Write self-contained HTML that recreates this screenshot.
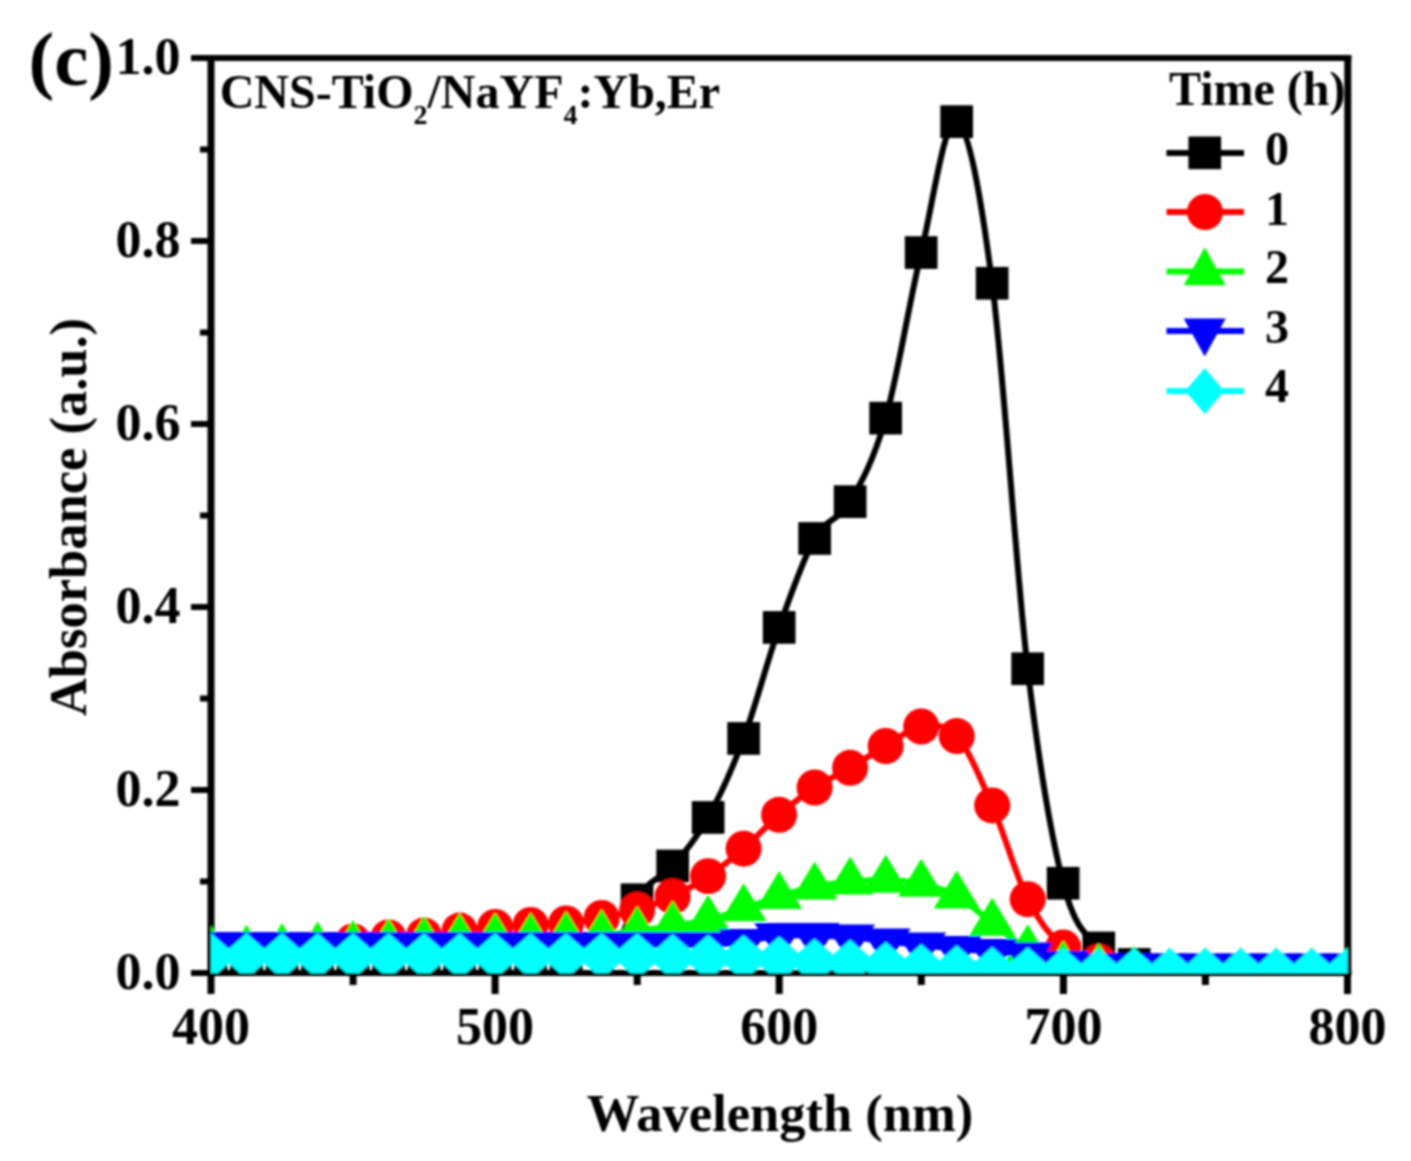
<!DOCTYPE html><html><head><meta charset="utf-8"><style>html,body{margin:0;padding:0;background:#fff;width:1411px;height:1161px;overflow:hidden}svg{display:block}text{font-family:"Liberation Serif",serif;font-weight:bold;fill:#000}</style></head><body>
<svg width="1411" height="1161" viewBox="0 0 1411 1161">
<defs><filter id="bl" x="0" y="0" width="1411" height="1161" filterUnits="userSpaceOnUse"><feGaussianBlur stdDeviation="0.8"/></filter><clipPath id="pa"><rect x="211.0" y="58.0" width="1136.5" height="915.0"/></clipPath></defs>
<rect width="1411" height="1161" fill="#fff"/>
<g filter="url(#bl)">
<path d="M207.5,58.0H1351.3M207.5,973.0H1351.3" stroke="#000" stroke-width="6" fill="none"/>
<path d="M211.0,55.0V976.0M1347.8,55.0V976.0" stroke="#000" stroke-width="7" fill="none"/>
<g clip-path="url(#pa)">
<path d="M601.6,995.0 C607.5,979.1 625.3,921.3 637.1,899.8 C648.9,878.3 660.8,879.7 672.6,866.0 C684.4,852.3 696.3,838.8 708.1,817.5 C719.9,796.2 731.8,770.2 743.6,738.5 C755.5,706.8 767.3,660.8 779.1,627.5 C791.0,594.2 802.8,559.5 814.6,538.5 C826.5,517.5 838.3,521.8 850.1,501.7 C862.0,481.6 873.8,459.7 885.7,418.2 C897.5,376.7 909.3,301.9 921.2,252.5 C933.0,203.1 944.8,116.6 956.7,121.7 C968.5,126.8 980.3,192.1 992.2,283.3 C1004.0,374.5 1015.8,568.7 1027.7,668.7 C1039.5,768.7 1051.4,836.8 1063.2,883.3 C1075.0,929.8 1086.9,934.5 1098.7,948.0 C1110.5,961.5 1122.4,960.8 1134.2,964.5 C1146.0,968.2 1157.9,968.2 1169.7,970.0 C1181.6,971.8 1193.4,974.0 1205.2,975.0 C1217.1,976.0 1228.9,975.7 1240.7,976.0 C1252.6,976.3 1264.4,976.7 1276.2,977.0 C1288.1,977.3 1299.9,977.8 1311.7,978.0 C1323.6,978.2 1341.3,978.0 1347.3,978.0" fill="none" stroke="#000" stroke-width="6.0"/>
<path d="M211.0,981.0 C216.9,981.0 234.7,981.0 246.5,981.0 C258.3,981.0 270.2,981.0 282.0,981.0 C293.9,981.0 305.7,981.0 317.5,981.0 C329.4,981.0 341.2,981.0 353.0,981.0 C364.9,981.0 376.7,981.0 388.5,981.0 C400.4,981.0 412.2,981.0 424.0,981.0 C435.9,981.0 447.7,981.0 459.6,981.0 C471.4,981.0 483.2,981.0 495.1,981.0 C506.9,981.0 518.7,981.0 530.6,981.0 C542.4,981.0 554.2,978.7 566.1,981.0 C577.9,983.3 595.7,992.7 601.6,995.0" fill="none" stroke="#000" stroke-width="6.0"/>
<g fill="#000"><rect x="194.7" y="964.6" width="32.7" height="32.7"/><rect x="230.2" y="964.6" width="32.7" height="32.7"/><rect x="265.7" y="964.6" width="32.7" height="32.7"/><rect x="301.2" y="964.6" width="32.7" height="32.7"/><rect x="336.7" y="964.6" width="32.7" height="32.7"/><rect x="372.2" y="964.6" width="32.7" height="32.7"/><rect x="407.7" y="964.6" width="32.7" height="32.7"/><rect x="443.2" y="964.6" width="32.7" height="32.7"/><rect x="478.7" y="964.6" width="32.7" height="32.7"/><rect x="514.2" y="964.6" width="32.7" height="32.7"/><rect x="549.7" y="964.6" width="32.7" height="32.7"/><rect x="585.2" y="978.6" width="32.7" height="32.7"/><rect x="620.7" y="883.4" width="32.7" height="32.7"/><rect x="656.3" y="849.6" width="32.7" height="32.7"/><rect x="691.8" y="801.1" width="32.7" height="32.7"/><rect x="727.3" y="722.1" width="32.7" height="32.7"/><rect x="762.8" y="611.1" width="32.7" height="32.7"/><rect x="798.3" y="522.1" width="32.7" height="32.7"/><rect x="833.8" y="485.3" width="32.7" height="32.7"/><rect x="869.3" y="401.8" width="32.7" height="32.7"/><rect x="904.8" y="236.2" width="32.7" height="32.7"/><rect x="940.3" y="105.3" width="32.7" height="32.7"/><rect x="975.8" y="266.9" width="32.7" height="32.7"/><rect x="1011.3" y="652.4" width="32.7" height="32.7"/><rect x="1046.8" y="866.9" width="32.7" height="32.7"/><rect x="1082.4" y="931.6" width="32.7" height="32.7"/><rect x="1117.9" y="948.1" width="32.7" height="32.7"/><rect x="1153.4" y="953.6" width="32.7" height="32.7"/><rect x="1188.9" y="958.6" width="32.7" height="32.7"/><rect x="1224.4" y="959.6" width="32.7" height="32.7"/><rect x="1259.9" y="960.6" width="32.7" height="32.7"/><rect x="1295.4" y="961.6" width="32.7" height="32.7"/><rect x="1330.9" y="961.6" width="32.7" height="32.7"/></g>
<path d="M211.0,952.0 C216.9,951.8 234.7,951.3 246.5,951.0 C258.3,950.7 270.2,950.5 282.0,950.0 C293.9,949.5 305.7,949.4 317.5,948.0 C329.4,946.6 341.2,943.2 353.0,941.5 C364.9,939.8 376.7,938.5 388.5,937.5 C400.4,936.5 412.2,936.8 424.0,935.6 C435.9,934.5 447.7,932.0 459.6,930.6 C471.4,929.2 483.2,928.0 495.1,927.0 C506.9,926.0 518.7,925.5 530.6,924.9 C542.4,924.3 554.2,924.6 566.1,923.5 C577.9,922.4 589.8,920.2 601.6,918.0 C613.4,915.8 625.3,913.6 637.1,910.0 C648.9,906.4 660.8,902.1 672.6,896.5 C684.4,890.9 696.3,884.2 708.1,876.2 C719.9,868.2 731.8,858.9 743.6,848.7 C755.5,838.5 767.3,825.0 779.1,814.8 C791.0,804.6 802.8,795.3 814.6,787.5 C826.5,779.7 838.3,774.7 850.1,767.8 C862.0,760.9 873.8,752.9 885.7,746.0 C897.5,739.1 909.3,728.1 921.2,726.5 C933.0,724.9 944.8,723.0 956.7,736.1 C968.5,749.2 980.3,778.2 992.2,805.4 C1004.0,832.6 1015.8,875.5 1027.7,899.2 C1039.5,922.9 1051.4,937.0 1063.2,947.5 C1075.0,958.0 1086.9,957.9 1098.7,962.0 C1110.5,966.1 1122.4,969.7 1134.2,972.0 C1146.0,974.3 1157.9,975.3 1169.7,976.0 C1181.6,976.7 1193.4,976.0 1205.2,976.0 C1217.1,976.0 1228.9,976.0 1240.7,976.0 C1252.6,976.0 1264.4,976.0 1276.2,976.0 C1288.1,976.0 1299.9,976.0 1311.7,976.0 C1323.6,976.0 1341.3,976.0 1347.3,976.0" fill="none" stroke="#f00" stroke-width="6.0"/>
<g fill="#f00"><circle cx="211.0" cy="952.0" r="18.0"/><circle cx="246.5" cy="951.0" r="18.0"/><circle cx="282.0" cy="950.0" r="18.0"/><circle cx="317.5" cy="948.0" r="18.0"/><circle cx="353.0" cy="941.5" r="18.0"/><circle cx="388.5" cy="937.5" r="18.0"/><circle cx="424.0" cy="935.6" r="18.0"/><circle cx="459.6" cy="930.6" r="18.0"/><circle cx="495.1" cy="927.0" r="18.0"/><circle cx="530.6" cy="924.9" r="18.0"/><circle cx="566.1" cy="923.5" r="18.0"/><circle cx="601.6" cy="918.0" r="18.0"/><circle cx="637.1" cy="910.0" r="18.0"/><circle cx="672.6" cy="896.5" r="18.0"/><circle cx="708.1" cy="876.2" r="18.0"/><circle cx="743.6" cy="848.7" r="18.0"/><circle cx="779.1" cy="814.8" r="18.0"/><circle cx="814.6" cy="787.5" r="18.0"/><circle cx="850.1" cy="767.8" r="18.0"/><circle cx="885.7" cy="746.0" r="18.0"/><circle cx="921.2" cy="726.5" r="18.0"/><circle cx="956.7" cy="736.1" r="18.0"/><circle cx="992.2" cy="805.4" r="18.0"/><circle cx="1027.7" cy="899.2" r="18.0"/><circle cx="1063.2" cy="947.5" r="18.0"/><circle cx="1098.7" cy="962.0" r="18.0"/><circle cx="1134.2" cy="972.0" r="18.0"/><circle cx="1169.7" cy="976.0" r="18.0"/><circle cx="1205.2" cy="976.0" r="18.0"/><circle cx="1240.7" cy="976.0" r="18.0"/><circle cx="1276.2" cy="976.0" r="18.0"/><circle cx="1311.7" cy="976.0" r="18.0"/><circle cx="1347.3" cy="976.0" r="18.0"/></g>
<path d="M211.0,950.8 C216.9,950.7 234.7,950.5 246.5,950.1 C258.3,949.7 270.2,948.9 282.0,948.3 C293.9,947.8 305.7,947.3 317.5,946.8 C329.4,946.3 341.2,945.8 353.0,945.3 C364.9,944.8 376.7,944.5 388.5,943.8 C400.4,943.2 412.2,942.2 424.0,941.3 C435.9,940.5 447.7,939.2 459.6,938.6 C471.4,938.1 483.2,938.1 495.1,937.9 C506.9,937.8 518.7,938.2 530.6,937.9 C542.4,937.7 554.2,936.9 566.1,936.3 C577.9,935.8 589.8,935.5 601.6,934.6 C613.4,933.8 625.3,932.7 637.1,931.2 C648.9,929.8 660.8,927.7 672.6,925.8 C684.4,924.0 696.3,923.0 708.1,920.1 C719.9,917.3 731.8,912.6 743.6,908.6 C755.5,904.7 767.3,900.0 779.1,896.3 C791.0,892.7 802.8,889.2 814.6,886.8 C826.5,884.4 838.3,883.0 850.1,881.8 C862.0,880.7 873.8,879.8 885.7,880.1 C897.5,880.5 909.3,881.4 921.2,884.0 C933.0,886.7 944.8,889.3 956.7,895.8 C968.5,902.3 980.3,914.1 992.2,923.0 C1004.0,932.0 1015.8,942.5 1027.7,949.6 C1039.5,956.8 1051.4,962.7 1063.2,965.8 C1075.0,969.0 1086.9,967.4 1098.7,968.3 C1110.5,969.2 1122.4,970.7 1134.2,971.3 C1146.0,972.0 1157.9,972.2 1169.7,972.3 C1181.6,972.5 1193.4,972.3 1205.2,972.3 C1217.1,972.3 1228.9,972.3 1240.7,972.3 C1252.6,972.3 1264.4,972.3 1276.2,972.3 C1288.1,972.3 1299.9,972.3 1311.7,972.3 C1323.6,972.3 1341.3,972.3 1347.3,972.3" fill="none" stroke="#0f0" stroke-width="6.0"/>
<g fill="#0f0"><path d="M211.0,925.5L234.0,963.5L188.0,963.5Z"/><path d="M246.5,924.8L269.5,962.8L223.5,962.8Z"/><path d="M282.0,923.0L305.0,961.0L259.0,961.0Z"/><path d="M317.5,921.5L340.5,959.5L294.5,959.5Z"/><path d="M353.0,920.0L376.0,958.0L330.0,958.0Z"/><path d="M388.5,918.5L411.5,956.5L365.5,956.5Z"/><path d="M424.0,916.0L447.0,954.0L401.0,954.0Z"/><path d="M459.6,913.3L482.6,951.3L436.6,951.3Z"/><path d="M495.1,912.6L518.1,950.6L472.1,950.6Z"/><path d="M530.6,912.6L553.6,950.6L507.6,950.6Z"/><path d="M566.1,911.0L589.1,949.0L543.1,949.0Z"/><path d="M601.6,909.3L624.6,947.3L578.6,947.3Z"/><path d="M637.1,905.9L660.1,943.9L614.1,943.9Z"/><path d="M672.6,900.5L695.6,938.5L649.6,938.5Z"/><path d="M708.1,894.8L731.1,932.8L685.1,932.8Z"/><path d="M743.6,883.3L766.6,921.3L720.6,921.3Z"/><path d="M779.1,871.0L802.1,909.0L756.1,909.0Z"/><path d="M814.6,861.5L837.6,899.5L791.6,899.5Z"/><path d="M850.1,856.5L873.1,894.5L827.1,894.5Z"/><path d="M885.7,854.8L908.7,892.8L862.7,892.8Z"/><path d="M921.2,858.7L944.2,896.7L898.2,896.7Z"/><path d="M956.7,870.5L979.7,908.5L933.7,908.5Z"/><path d="M992.2,897.7L1015.2,935.7L969.2,935.7Z"/><path d="M1027.7,924.3L1050.7,962.3L1004.7,962.3Z"/><path d="M1063.2,940.5L1086.2,978.5L1040.2,978.5Z"/><path d="M1098.7,943.0L1121.7,981.0L1075.7,981.0Z"/><path d="M1134.2,946.0L1157.2,984.0L1111.2,984.0Z"/><path d="M1169.7,947.0L1192.7,985.0L1146.7,985.0Z"/><path d="M1205.2,947.0L1228.2,985.0L1182.2,985.0Z"/><path d="M1240.7,947.0L1263.7,985.0L1217.7,985.0Z"/><path d="M1276.2,947.0L1299.2,985.0L1253.2,985.0Z"/><path d="M1311.7,947.0L1334.7,985.0L1288.7,985.0Z"/><path d="M1347.3,947.0L1370.3,985.0L1324.3,985.0Z"/></g>
<path d="M211.0,944.7 C216.9,944.7 234.7,944.7 246.5,944.7 C258.3,944.7 270.2,944.7 282.0,944.7 C293.9,944.7 305.7,944.7 317.5,944.7 C329.4,944.7 341.2,944.7 353.0,944.7 C364.9,944.7 376.7,944.7 388.5,944.7 C400.4,944.7 412.2,944.7 424.0,944.7 C435.9,944.7 447.7,944.7 459.6,944.7 C471.4,944.7 483.2,944.7 495.1,944.7 C506.9,944.7 518.7,944.7 530.6,944.7 C542.4,944.7 554.2,944.7 566.1,944.7 C577.9,944.7 589.8,944.7 601.6,944.7 C613.4,944.7 625.3,944.7 637.1,944.7 C648.9,944.7 660.8,944.7 672.6,944.7 C684.4,944.7 696.3,945.2 708.1,944.7 C719.9,944.2 731.8,943.2 743.6,941.7 C755.5,940.2 767.3,936.7 779.1,935.7 C791.0,934.7 802.8,935.4 814.6,935.7 C826.5,935.9 838.3,936.2 850.1,937.2 C862.0,938.1 873.8,939.8 885.7,941.2 C897.5,942.5 909.3,943.9 921.2,945.2 C933.0,946.4 944.8,947.6 956.7,948.7 C968.5,949.8 980.3,950.6 992.2,951.7 C1004.0,952.8 1015.8,953.2 1027.7,955.2 C1039.5,957.2 1051.4,961.8 1063.2,963.7 C1075.0,965.5 1086.9,965.8 1098.7,966.2 C1110.5,966.6 1122.4,966.2 1134.2,966.2 C1146.0,966.2 1157.9,966.2 1169.7,966.2 C1181.6,966.2 1193.4,966.2 1205.2,966.2 C1217.1,966.2 1228.9,966.2 1240.7,966.2 C1252.6,966.2 1264.4,966.2 1276.2,966.2 C1288.1,966.2 1299.9,966.2 1311.7,966.2 C1323.6,966.2 1341.3,966.2 1347.3,966.2" fill="none" stroke="#00f" stroke-width="6.0"/>
<g fill="#00f"><path d="M186.0,932.0L236.0,932.0L211.0,970.0Z"/><path d="M221.5,932.0L271.5,932.0L246.5,970.0Z"/><path d="M257.0,932.0L307.0,932.0L282.0,970.0Z"/><path d="M292.5,932.0L342.5,932.0L317.5,970.0Z"/><path d="M328.0,932.0L378.0,932.0L353.0,970.0Z"/><path d="M363.5,932.0L413.5,932.0L388.5,970.0Z"/><path d="M399.0,932.0L449.0,932.0L424.0,970.0Z"/><path d="M434.6,932.0L484.6,932.0L459.6,970.0Z"/><path d="M470.1,932.0L520.1,932.0L495.1,970.0Z"/><path d="M505.6,932.0L555.6,932.0L530.6,970.0Z"/><path d="M541.1,932.0L591.1,932.0L566.1,970.0Z"/><path d="M576.6,932.0L626.6,932.0L601.6,970.0Z"/><path d="M612.1,932.0L662.1,932.0L637.1,970.0Z"/><path d="M647.6,932.0L697.6,932.0L672.6,970.0Z"/><path d="M683.1,932.0L733.1,932.0L708.1,970.0Z"/><path d="M718.6,929.0L768.6,929.0L743.6,967.0Z"/><path d="M754.1,923.0L804.1,923.0L779.1,961.0Z"/><path d="M789.6,923.0L839.6,923.0L814.6,961.0Z"/><path d="M825.1,924.5L875.1,924.5L850.1,962.5Z"/><path d="M860.7,928.5L910.7,928.5L885.7,966.5Z"/><path d="M896.2,932.5L946.2,932.5L921.2,970.5Z"/><path d="M931.7,936.0L981.7,936.0L956.7,974.0Z"/><path d="M967.2,939.0L1017.2,939.0L992.2,977.0Z"/><path d="M1002.7,942.5L1052.7,942.5L1027.7,980.5Z"/><path d="M1038.2,951.0L1088.2,951.0L1063.2,989.0Z"/><path d="M1073.7,953.5L1123.7,953.5L1098.7,991.5Z"/><path d="M1109.2,953.5L1159.2,953.5L1134.2,991.5Z"/><path d="M1144.7,953.5L1194.7,953.5L1169.7,991.5Z"/><path d="M1180.2,953.5L1230.2,953.5L1205.2,991.5Z"/><path d="M1215.7,953.5L1265.7,953.5L1240.7,991.5Z"/><path d="M1251.2,953.5L1301.2,953.5L1276.2,991.5Z"/><path d="M1286.7,953.5L1336.7,953.5L1311.7,991.5Z"/><path d="M1322.3,953.5L1372.3,953.5L1347.3,991.5Z"/></g>
<path d="M211.0,956.0 C216.9,956.0 234.7,956.0 246.5,956.0 C258.3,956.0 270.2,956.0 282.0,956.0 C293.9,956.0 305.7,956.0 317.5,956.0 C329.4,956.0 341.2,956.0 353.0,956.0 C364.9,956.0 376.7,956.0 388.5,956.0 C400.4,956.0 412.2,956.0 424.0,956.0 C435.9,956.0 447.7,956.0 459.6,956.0 C471.4,956.0 483.2,956.0 495.1,956.0 C506.9,956.0 518.7,956.0 530.6,956.0 C542.4,956.0 554.2,956.0 566.1,956.0 C577.9,956.0 589.8,956.0 601.6,956.0 C613.4,956.0 625.3,955.8 637.1,956.0 C648.9,956.2 660.8,956.8 672.6,957.0 C684.4,957.2 696.3,957.3 708.1,957.5 C719.9,957.7 731.8,957.7 743.6,958.0 C755.5,958.3 767.3,958.7 779.1,959.3 C791.0,959.9 802.8,960.9 814.6,961.4 C826.5,961.9 838.3,961.9 850.1,962.5 C862.0,963.1 873.8,964.0 885.7,964.8 C897.5,965.5 909.3,966.4 921.2,967.0 C933.0,967.6 944.8,967.8 956.7,968.2 C968.5,968.7 980.3,969.4 992.2,969.7 C1004.0,970.0 1015.8,969.9 1027.7,970.0 C1039.5,970.1 1051.4,970.3 1063.2,970.5 C1075.0,970.7 1086.9,970.9 1098.7,971.0 C1110.5,971.1 1122.4,971.0 1134.2,971.0 C1146.0,971.0 1157.9,971.0 1169.7,971.0 C1181.6,971.0 1193.4,971.0 1205.2,971.0 C1217.1,971.0 1228.9,971.0 1240.7,971.0 C1252.6,971.0 1264.4,971.0 1276.2,971.0 C1288.1,971.0 1299.9,971.0 1311.7,971.0 C1323.6,971.0 1341.3,971.0 1347.3,971.0" fill="none" stroke="#0ff" stroke-width="6.0"/>
<g fill="#0ff"><path d="M211.0,933.0L237.0,956.0L211.0,979.0L185.0,956.0Z"/><path d="M246.5,933.0L272.5,956.0L246.5,979.0L220.5,956.0Z"/><path d="M282.0,933.0L308.0,956.0L282.0,979.0L256.0,956.0Z"/><path d="M317.5,933.0L343.5,956.0L317.5,979.0L291.5,956.0Z"/><path d="M353.0,933.0L379.0,956.0L353.0,979.0L327.0,956.0Z"/><path d="M388.5,933.0L414.5,956.0L388.5,979.0L362.5,956.0Z"/><path d="M424.0,933.0L450.0,956.0L424.0,979.0L398.0,956.0Z"/><path d="M459.6,933.0L485.6,956.0L459.6,979.0L433.6,956.0Z"/><path d="M495.1,933.0L521.1,956.0L495.1,979.0L469.1,956.0Z"/><path d="M530.6,933.0L556.6,956.0L530.6,979.0L504.6,956.0Z"/><path d="M566.1,933.0L592.1,956.0L566.1,979.0L540.1,956.0Z"/><path d="M601.6,933.0L627.6,956.0L601.6,979.0L575.6,956.0Z"/><path d="M637.1,933.0L663.1,956.0L637.1,979.0L611.1,956.0Z"/><path d="M672.6,934.0L698.6,957.0L672.6,980.0L646.6,957.0Z"/><path d="M708.1,934.5L734.1,957.5L708.1,980.5L682.1,957.5Z"/><path d="M743.6,935.0L769.6,958.0L743.6,981.0L717.6,958.0Z"/><path d="M779.1,936.3L805.1,959.3L779.1,982.3L753.1,959.3Z"/><path d="M814.6,938.4L840.6,961.4L814.6,984.4L788.6,961.4Z"/><path d="M850.1,939.5L876.1,962.5L850.1,985.5L824.1,962.5Z"/><path d="M885.7,941.8L911.7,964.8L885.7,987.8L859.7,964.8Z"/><path d="M921.2,944.0L947.2,967.0L921.2,990.0L895.2,967.0Z"/><path d="M956.7,945.2L982.7,968.2L956.7,991.2L930.7,968.2Z"/><path d="M992.2,946.7L1018.2,969.7L992.2,992.7L966.2,969.7Z"/><path d="M1027.7,947.0L1053.7,970.0L1027.7,993.0L1001.7,970.0Z"/><path d="M1063.2,947.5L1089.2,970.5L1063.2,993.5L1037.2,970.5Z"/><path d="M1098.7,948.0L1124.7,971.0L1098.7,994.0L1072.7,971.0Z"/><path d="M1134.2,948.0L1160.2,971.0L1134.2,994.0L1108.2,971.0Z"/><path d="M1169.7,948.0L1195.7,971.0L1169.7,994.0L1143.7,971.0Z"/><path d="M1205.2,948.0L1231.2,971.0L1205.2,994.0L1179.2,971.0Z"/><path d="M1240.7,948.0L1266.7,971.0L1240.7,994.0L1214.7,971.0Z"/><path d="M1276.2,948.0L1302.2,971.0L1276.2,994.0L1250.2,971.0Z"/><path d="M1311.7,948.0L1337.7,971.0L1311.7,994.0L1285.7,971.0Z"/><path d="M1347.3,948.0L1373.3,971.0L1347.3,994.0L1321.3,971.0Z"/></g>
</g>
<path d="M211.0,973.0H191.0M211.0,790.0H191.0M211.0,607.0H191.0M211.0,424.0H191.0M211.0,241.0H191.0M211.0,58.0H191.0M211.0,881.5H200.0M211.0,698.5H200.0M211.0,515.5H200.0M211.0,332.5H200.0M211.0,149.5H200.0" stroke="#000" stroke-width="6" fill="none"/>
<path d="M211.0,973.0V994.0M495.1,973.0V994.0M779.2,973.0V994.0M1063.4,973.0V994.0M1347.5,973.0V994.0M353.1,973.0V985.0M637.2,973.0V985.0M921.3,973.0V985.0M1205.4,973.0V985.0" stroke="#000" stroke-width="7" fill="none"/>
<text x="180.5" y="988.5" font-size="52" text-anchor="end">0.0</text>
<text x="180.5" y="805.5" font-size="52" text-anchor="end">0.2</text>
<text x="180.5" y="622.5" font-size="52" text-anchor="end">0.4</text>
<text x="180.5" y="439.5" font-size="52" text-anchor="end">0.6</text>
<text x="180.5" y="256.5" font-size="52" text-anchor="end">0.8</text>
<text x="180.5" y="73.5" font-size="52" text-anchor="end">1.0</text>
<text x="211.0" y="1044" font-size="52" text-anchor="middle">400</text>
<text x="495.1" y="1044" font-size="52" text-anchor="middle">500</text>
<text x="779.2" y="1044" font-size="52" text-anchor="middle">600</text>
<text x="1063.4" y="1044" font-size="52" text-anchor="middle">700</text>
<text x="1347.5" y="1044" font-size="52" text-anchor="middle">800</text>
<text x="780" y="1131" font-size="52.5" text-anchor="middle">Wavelength (nm)</text>
<text transform="translate(86,517) rotate(-90)" font-size="52.5" text-anchor="middle">Absorbance (a.u.)</text>
<text x="28.5" y="84.5" font-size="77">(c)</text>
<text x="219.7" y="107.6" font-size="48">CNS-TiO<tspan font-size="28" dy="16">2</tspan><tspan dy="-16">/NaYF</tspan><tspan font-size="28" dy="16">4</tspan><tspan dy="-16">:Yb,Er</tspan></text>
<text x="1169" y="105.4" font-size="48">Time (h)</text>
<path d="M1166.5,153.0H1244" stroke="#000" stroke-width="6.0"/>
<g fill="#000"><rect x="1188.4" y="136.5" width="32.7" height="32.7"/></g>
<path d="M1166.5,212.0H1244" stroke="#f00" stroke-width="6.0"/>
<g fill="#f00"><circle cx="1205.0" cy="212.0" r="18.0"/></g>
<path d="M1166.5,271.5H1244" stroke="#0f0" stroke-width="6.0"/>
<g fill="#0f0"><path d="M1204.7,247.2L1225.7,285.2L1183.7,285.2Z"/></g>
<path d="M1166.5,331.0H1244" stroke="#00f" stroke-width="6.0"/>
<g fill="#00f"><path d="M1183.7,318.5L1225.7,318.5L1204.7,356.5Z"/></g>
<path d="M1166.5,391.0H1244" stroke="#0ff" stroke-width="6.0"/>
<g fill="#0ff"><path d="M1204.7,367.9L1224.2,390.9L1204.7,413.9L1185.2,390.9Z"/></g>
<text x="1265" y="164.5" font-size="48">0</text>
<text x="1265" y="224.5" font-size="48">1</text>
<text x="1265" y="283.4" font-size="48">2</text>
<text x="1265" y="343.0" font-size="48">3</text>
<text x="1265" y="402.3" font-size="48">4</text>
</g></svg></body></html>
